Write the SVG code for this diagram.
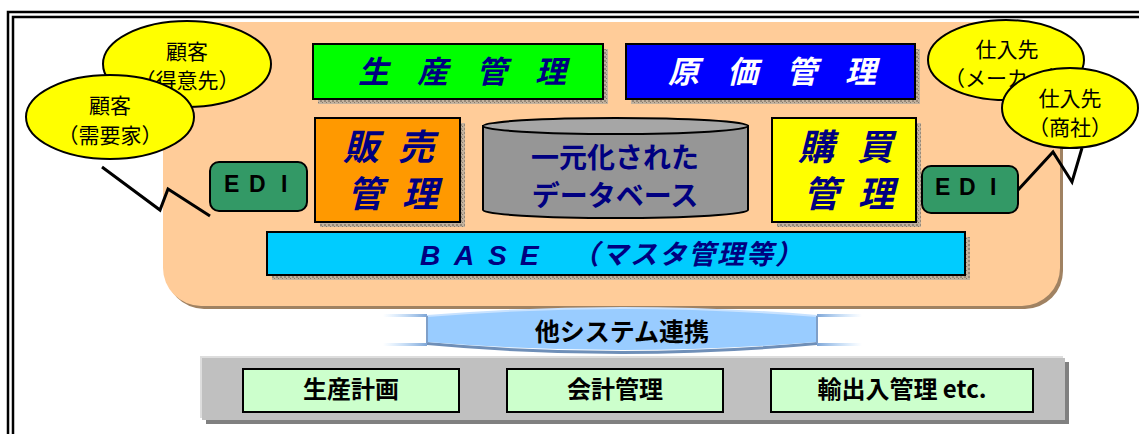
<svg xmlns="http://www.w3.org/2000/svg" width="1139" height="434" viewBox="0 0 1139 434">
<defs>
<pattern id="dots" width="4" height="4" patternUnits="userSpaceOnUse">
<rect width="4" height="4" fill="#c2b29e"/><rect width="2" height="2" fill="#968878"/><rect x="2" y="2" width="1" height="1" fill="#857868"/>
</pattern>
<linearGradient id="fadeL" x1="0" y1="0" x2="1" y2="0"><stop offset="0" stop-color="#99ccff" stop-opacity="0"/><stop offset="1" stop-color="#7fa6d6"/></linearGradient>
<linearGradient id="fadeR" x1="0" y1="0" x2="1" y2="0"><stop offset="0" stop-color="#7fa6d6"/><stop offset="1" stop-color="#99ccff" stop-opacity="0"/></linearGradient>
</defs>
<style>
.box{stroke:#000;stroke-width:2}
.sh{fill:url(#dots)}
.jp{font-family:"Noto Sans CJK JP","Noto Sans",sans-serif}
.big{font-size:31px;font-weight:bold;font-style:italic;fill:#000080}
.two{font-size:36px;font-weight:bold;font-style:italic;fill:#000080}
.ell{fill:#ffff00;stroke:#000;stroke-width:2}
.et{font-family:"Noto Sans CJK JP",sans-serif;font-size:21px;fill:#000;text-anchor:middle}
.edi{fill:#339966;stroke:#000;stroke-width:2}
.edit{font-family:"Liberation Sans",Arial,sans-serif;font-size:23px;font-weight:bold;fill:#000}
.tail{fill:none;stroke:#000;stroke-width:3}
.sub{fill:#ccffcc;stroke:#000;stroke-width:2}
.subt{font-family:"Noto Sans CJK JP",sans-serif;font-size:24px;font-weight:bold;fill:#000;text-anchor:middle}
</style>

<g id="frame" fill="none" stroke="#000" stroke-width="2.5">
<rect x="8" y="12" width="1200" height="500"/>
<rect x="13" y="17" width="1200" height="500"/>
</g>

<g id="system">
<rect x="166" y="25" width="897" height="284" rx="38" fill="#a08262"/>
<rect x="163" y="22" width="897" height="284" rx="38" fill="#ffcc99"/>
</g>

<g id="customer1">
<ellipse cx="187" cy="64" rx="84" ry="43" class="ell"/>
<text class="et" x="187" y="59">顧客</text>
<text class="et" x="187" y="88">（得意先）</text>
</g>
<g id="customer2">
<ellipse cx="110" cy="117" rx="84" ry="42" class="ell"/>
<text class="et" x="110" y="113">顧客</text>
<text class="et" x="110" y="143">（需要家）</text>
</g>
<g id="supplier1">
<ellipse cx="1006" cy="60" rx="78" ry="40" class="ell"/>
<text class="et" x="1007" y="57">仕入先</text>
<text class="et" x="1007" y="86">（メーカー）</text>
</g>
<g id="supplier2">
<ellipse cx="1070" cy="108" rx="68" ry="40" class="ell"/>
<text class="et" x="1070" y="106">仕入先</text>
<text class="et" x="1070" y="135">（商社）</text>
</g>

<g id="seisan">
<rect x="318" y="49" width="290" height="55" class="sh"/>
<rect x="313" y="44" width="290" height="55" fill="#00ff00" class="box"/>
<text class="jp big" x="358 417 476 535" y="83">生産管理</text>
</g>
<g id="genka">
<rect x="631" y="49" width="289" height="55" class="sh"/>
<rect x="626" y="44" width="289" height="55" fill="#0000ff" class="box"/>
<text class="jp big" style="fill:#fff" x="668 727 786 845" y="83">原価管理</text>
</g>
<g id="hanbai">
<rect x="320" y="123" width="145" height="104" class="sh"/>
<rect x="315" y="118" width="145" height="104" fill="#ff9900" class="box"/>
<text class="jp two" x="343 398" y="160">販売</text>
<text class="jp two" x="347 402" y="207">管理</text>
</g>
<g id="database">
<path d="M483,126 L483,210 A132.5,8 0 0 0 748,210 L748,126 Z" fill="#969696" stroke="#000" stroke-width="2"/>
<ellipse cx="615.5" cy="126" rx="132.5" ry="8" fill="#a6a6a6" stroke="#000" stroke-width="2"/>
<text class="jp" x="615" y="168" font-size="28" font-weight="bold" fill="#000080" text-anchor="middle">一元化された</text>
<text class="jp" x="615" y="206" font-size="28" font-weight="bold" fill="#000080" text-anchor="middle">データベース</text>
</g>
<g id="kobai">
<rect x="777" y="123" width="144" height="104" class="sh"/>
<rect x="772" y="118" width="144" height="104" fill="#ffff00" class="box"/>
<text class="jp two" x="798 857" y="160">購買</text>
<text class="jp two" x="803 858" y="207">管理</text>
</g>
<g id="base">
<rect x="272" y="237" width="698" height="43" class="sh"/>
<rect x="267" y="232" width="698" height="43" fill="#00ccff" class="box"/>
<text font-family="Liberation Sans,Arial,sans-serif" font-size="28" font-style="italic" font-weight="bold" fill="#000080" x="420 454 488 520" y="265">BASE</text>
<text class="jp" font-size="27" font-style="italic" font-weight="bold" fill="#000080" x="572" y="264" letter-spacing="2">（マスタ管理等）</text>
</g>
<g id="edi-left">
<rect x="210" y="162" width="97" height="49" rx="9" class="edi"/>
<text class="edit" x="224 249 281" y="192">EDI</text>
</g>
<g id="edi-right">
<rect x="922" y="166" width="96" height="47" rx="9" class="edi"/>
<text class="edit" x="935 959 990" y="195">EDI</text>
</g>

<g id="connectors">
<polyline class="tail" points="102,167 160,210 168,189 210,216"/>
<polyline class="tail" points="1018,190 1053,152 1072,182 1082,148"/>
</g>

<g id="link">
<rect x="383" y="315" width="44" height="30" fill="#fff"/>
<rect x="383" y="314" width="44" height="3" fill="url(#fadeL)"/>
<rect x="383" y="343" width="44" height="3" fill="url(#fadeL)"/>
<rect x="817" y="315" width="45" height="30" fill="#fff"/>
<rect x="817" y="314" width="45" height="3" fill="url(#fadeR)"/>
<rect x="817" y="343" width="45" height="3" fill="url(#fadeR)"/>
<path d="M427,342 Q622,360 817,342 L817,345 Q622,363 427,345 Z" fill="#6f8fb8"/>
<path d="M427,316 Q622,300 817,316 L817,342 Q622,358 427,342 Z" fill="#99ccff"/>
<path d="M427,316 Q622,300 817,316" fill="none" stroke="#c8e2ff" stroke-width="2"/>
<line x1="427" y1="316" x2="427" y2="343" stroke="#7f9fc8" stroke-width="2"/>
<line x1="817" y1="316" x2="817" y2="343" stroke="#7f9fc8" stroke-width="2"/>
<text class="jp" x="622" y="341" font-size="25" font-weight="bold" fill="#000" text-anchor="middle">他システム連携</text>
</g>

<g id="others">
<rect x="206" y="362" width="863" height="62" fill="#808080"/>
<rect x="200" y="356" width="863" height="62" fill="#dddddd"/>
<rect x="202" y="358" width="863" height="62" fill="#c0c0c0"/>
</g>
<g id="seisan-keikaku">
<rect x="243" y="369" width="216" height="43" class="sub"/>
<text class="subt" x="351" y="398">生産計画</text>
</g>
<g id="kaikei">
<rect x="507" y="369" width="216" height="43" class="sub"/>
<text class="subt" x="615" y="398">会計管理</text>
</g>
<g id="yushutsunyu">
<rect x="771" y="369" width="262" height="43" class="sub"/>
<text class="subt" x="902" y="398">輸出入管理 etc.</text>
</g>
</svg>
